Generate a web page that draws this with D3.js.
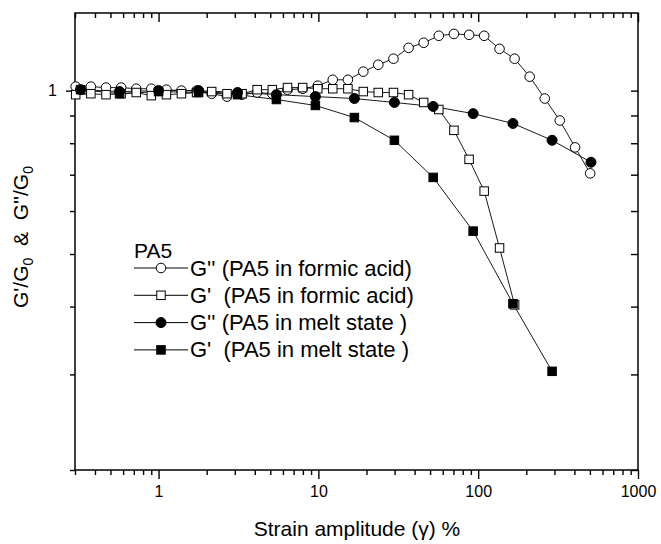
<!DOCTYPE html>
<html>
<head>
<meta charset="utf-8">
<script src="https://cdn.jsdelivr.net/npm/d3@7"></script>
<style>
  body { margin: 0; background: #fff; }
  svg text { font-family: "Liberation Sans", Arial, sans-serif; fill: #000; white-space: pre; }
</style>
</head>
<body>
<div id="chart"></div>
<script>
// strain amplitudes (%) for the formic acid sweeps
const strainFormic = [0.303, 0.377, 0.469, 0.583, 0.725, 0.901, 1.12, 1.39, 1.73, 2.15,
  2.68, 3.33, 4.14, 5.15, 6.41, 7.97, 9.91, 12.3, 15.3, 19.1,
  23.7, 29.5, 36.7, 45.6, 56.7, 70.5, 87.7, 109, 136, 169,
  210, 261, 324, 404, 502];
// G''/G0 in formic acid
const gppFormic = [1.017, 1.017, 1.013, 1.013, 1.008, 1.008, 1.004, 1.000, 1.000, 0.987,
  0.975, 0.983, 0.992, 0.987, 1.004, 1.008, 1.021, 1.047, 1.047, 1.084,
  1.116, 1.145, 1.199, 1.225, 1.262, 1.272, 1.267, 1.262, 1.194, 1.145,
  1.061, 0.967, 0.881, 0.786, 0.704];
// G'/G0 in formic acid
const gpFormic = [0.983, 0.987, 0.983, 0.987, 0.992, 0.979, 0.983, 0.987, 0.992, 0.996,
  0.987, 0.987, 1.004, 1.004, 1.013, 1.013, 1.008, 1.008, 1.008, 0.996,
  0.992, 0.992, 0.983, 0.951, 0.923, 0.845, 0.747, 0.653, 0.513, 0.403];

// strain amplitudes (%) for the melt sweeps
const strainMelt = [0.325, 0.570, 1.0, 1.78, 3.12, 5.46, 9.58, 16.8, 29.9, 52.3, 93.0, 165, 290, 508];
const gppMelt = [1.004, 0.996, 1.0, 1.0, 0.992, 0.983, 0.975, 0.967, 0.951, 0.935, 0.907, 0.870, 0.810, 0.738];
const gpMelt = [1.004, 0.987, 0.996, 0.992, 0.983, 0.963, 0.939, 0.892, 0.810, 0.692, 0.551, 0.405, 0.304];

const xMajor = [1, 10, 100, 1000];
const xMinor = [0.3, 0.4, 0.5, 0.6, 0.7, 0.8, 0.9, 2, 3, 4, 5, 6, 7, 8, 9,
  20, 30, 40, 50, 60, 70, 80, 90, 200, 300, 400, 500, 600, 700, 800, 900];
const yMajor = [1];
const yMinor = [0.2, 0.3, 0.4, 0.5, 0.6, 0.7, 0.8, 0.9];

const legendLabels = ["G'' (PA5 in formic acid)", "G'  (PA5 in formic acid)",
  "G'' (PA5 in melt state )", "G'  (PA5 in melt state )"];

const W = 661, H = 544;
const L = 75, R = 638, T = 13, B = 470;

const svg = d3.select("#chart").append("svg")
    .attr("width", W).attr("height", H);

const x = d3.scaleLog().domain([0.3, 1000]).range([L, R]);
const y = d3.scaleLog().domain([0.2, 1.39]).range([B, T]);

// Axes: bottom/left ticks outward, top/right inward
function axisPair(gen, vals, size) {
    return gen.tickValues(vals).tickSize(size).tickFormat("");
}
const axes = svg.append("g");
axes.append("g").attr("transform", `translate(0,${B})`)
    .call(axisPair(d3.axisBottom(x), xMinor, 5));
axes.append("g").attr("transform", `translate(0,${B})`)
    .call(d3.axisBottom(x).tickValues(xMajor).tickSize(9).tickPadding(7).tickFormat(d3.format("d")));
axes.append("g").attr("transform", `translate(0,${T})`)
    .call(axisPair(d3.axisBottom(x), xMinor, 5));
axes.append("g").attr("transform", `translate(0,${T})`)
    .call(axisPair(d3.axisBottom(x), xMajor, 9));
axes.append("g").attr("transform", `translate(${L},0)`)
    .call(axisPair(d3.axisLeft(y), yMinor, 5));
axes.append("g").attr("transform", `translate(${L},0)`)
    .call(d3.axisLeft(y).tickValues(yMajor).tickSize(9).tickPadding(9).tickFormat(d3.format("d")));
axes.append("g").attr("transform", `translate(${R},0)`)
    .call(axisPair(d3.axisLeft(y), yMinor.concat(yMajor), 7));

axes.selectAll(".domain").remove();
axes.selectAll("line").attr("stroke", "#000").attr("stroke-width", 1.4);
axes.selectAll("text").style("font-size", "16px")
    .style("font-family", "'Liberation Sans', Arial, sans-serif").attr("fill", "#000");

svg.append("rect")
    .attr("x", L).attr("y", T).attr("width", R - L).attr("height", B - T)
    .attr("fill", "none").attr("stroke", "#000").attr("stroke-width", 1.5);

// Series
const series = [
    { xs: strainFormic, ys: gppFormic, shape: "circle", fill: "#fff" },
    { xs: strainFormic, ys: gpFormic, shape: "square", fill: "#fff" },
    { xs: strainMelt, ys: gppMelt, shape: "circle", fill: "#000" },
    { xs: strainMelt, ys: gpMelt, shape: "square", fill: "#000" }
];

const line = d3.line().x(d => x(d[0])).y(d => y(d[1]));

function drawMarker(g, shape, fill, cx, cy, big) {
    if (shape === "circle") {
        g.append("circle").attr("cx", cx).attr("cy", cy).attr("r", big ? 5 : 4.8)
            .attr("fill", fill).attr("stroke", "#000").attr("stroke-width", 1);
    } else {
        const s = 8.5;
        g.append("rect").attr("x", cx - s / 2).attr("y", cy - s / 2)
            .attr("width", s).attr("height", s)
            .attr("fill", fill).attr("stroke", "#000").attr("stroke-width", 1);
    }
}

series.forEach(s => {
    const pts = s.ys.map((v, i) => [s.xs[i], v]);
    svg.append("path").datum(pts)
        .attr("d", line)
        .attr("fill", "none").attr("stroke", "#000").attr("stroke-width", 0.9);
});
series.forEach(s => {
    const g = svg.append("g");
    s.ys.forEach((v, i) => drawMarker(g, s.shape, s.fill, x(s.xs[i]), y(v), s.fill === "#000"));
});

// Legend
const lg = svg.append("g");
lg.append("text").attr("x", 134).attr("y", 258).style("font-size", "21px").text("PA5");
series.forEach((s, i) => {
    const ly = 268 + i * 27.3;
    lg.append("line").attr("x1", 134).attr("x2", 188).attr("y1", ly).attr("y2", ly)
        .attr("stroke", "#000").attr("stroke-width", 1);
    drawMarker(lg, s.shape, s.fill, 161, ly, s.fill === "#000");
    lg.append("text").attr("x", 190).attr("y", ly + 7.5).style("font-size", "22px")
        .text(legendLabels[i]);
});

// Axis titles
svg.append("text")
    .attr("x", 357).attr("y", 536).attr("text-anchor", "middle")
    .style("font-size", "21px").text("Strain amplitude (\u03b3) %");

const yt = svg.append("text")
    .attr("transform", "translate(28,237) rotate(-90)")
    .attr("text-anchor", "middle").style("font-size", "21px");
yt.append("tspan").text("G'/G");
yt.append("tspan").attr("dy", 5).style("font-size", "14px").text("0");
yt.append("tspan").attr("dy", -5).text("  &  G''/G");
yt.append("tspan").attr("dy", 5).style("font-size", "14px").text("0");
</script>
</body>
</html>
